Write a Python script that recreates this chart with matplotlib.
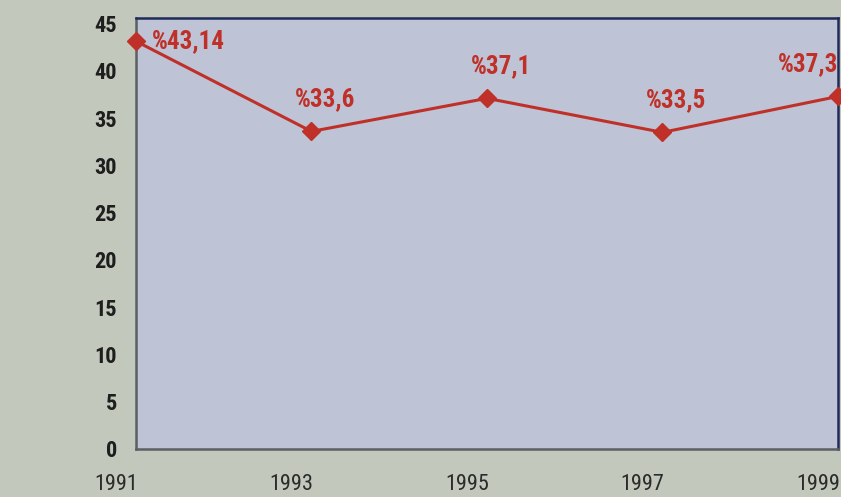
import matplotlib
matplotlib.use("Agg")
import matplotlib.pyplot as plt
import matplotlib.transforms as mtransforms

years = [1991, 1993, 1995, 1997, 1999]
values = [43.14, 33.6, 37.1, 33.5, 37.3]
labels = ["%43,14", "%33,6", "%37,1", "%33,5", "%37,3"]
yticks = [0, 5, 10, 15, 20, 25, 30, 35, 40, 45]

fam = ["Roboto Condensed", "DejaVu Sans"]
red = "#bf3029"

fig = plt.figure(figsize=(8.41, 4.97), dpi=100, facecolor="#c3c8bc")
ax = fig.add_axes([0.1617, 0.0966, 0.8347, 0.8672])
ax.set_facecolor("#bec3d5")

ax.plot(years, values, color=red, lw=2.2, marker="D", ms=9.5, mfc=red, mec=red,
        clip_on=False, zorder=3)

for i, (x, v, t) in enumerate(zip(years, values, labels)):
    if i == 0:
        ax.annotate(t, (x, v), xytext=(11.5, 0), textcoords="offset points", ha="left", va="center",
                    color=red, fontsize=18, fontweight="bold", family=fam)
    elif i < len(years) - 1:
        ax.annotate(t, (x, v), xytext=(10, 14.5), textcoords="offset points", ha="center", va="bottom",
                    color=red, fontsize=18, fontweight="bold", family=fam, annotation_clip=False)
    else:
        ax.annotate(t, (x, v), xytext=(0, 14.5), textcoords="offset points", ha="right", va="bottom",
                    color=red, fontsize=18, fontweight="bold", family=fam, annotation_clip=False)

ax.set_xlim(1991, 1999)
ax.set_ylim(0, 45.6)
ax.set_xticks(years)
ax.set_xticklabels([str(y) for y in years], family=fam, fontsize=16, color="#2b2b2b")
ax.set_yticks(yticks)
ax.set_yticklabels([str(y) for y in yticks], family=fam, fontsize=16, fontweight="bold", color="#1e1e1e")
ax.tick_params(axis="y", length=0, pad=13.5)
ax.tick_params(axis="x", length=0, pad=18)

shift = mtransforms.ScaledTranslation(-20 / 100, 0, fig.dpi_scale_trans)
for lab in ax.get_xticklabels():
    lab.set_transform(lab.get_transform() + shift)

ax.spines["top"].set_color("#1f2a5a")
ax.spines["right"].set_color("#1f2a5a")
ax.spines["left"].set_color("#5a5f64")
ax.spines["bottom"].set_color("#5a5f64")
for s in ax.spines.values():
    s.set_linewidth(1.8)

fig.savefig("out.png", dpi=100, facecolor=fig.get_facecolor())
